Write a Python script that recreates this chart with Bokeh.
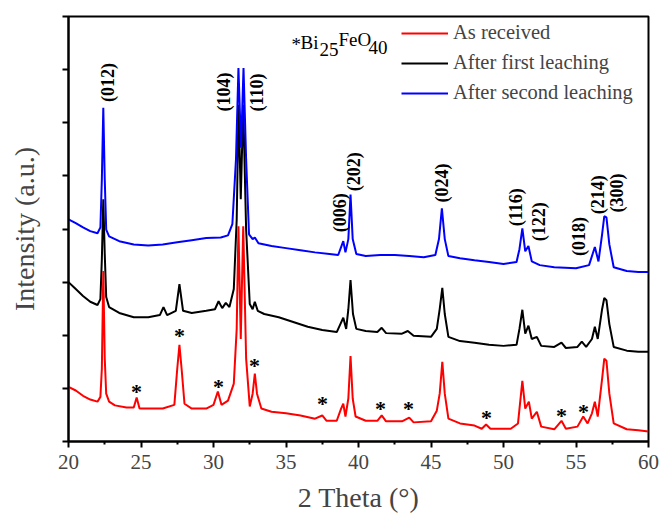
import math
from bokeh.plotting import figure
from bokeh.models import ColumnDataSource, Legend, LegendItem, FixedTicker, Range1d
from bokeh.core.properties import value
from bokeh.embed import file_html
from bokeh.resources import INLINE

# ---- data (2 Theta in degrees, intensity in a.u. with stacked offsets) ----
red_x = [20.0, 20.5, 21.0, 21.5, 22.0, 22.2, 22.3, 22.4, 22.5, 22.6, 22.8, 23.2, 24.0, 24.5, 24.7, 24.9,
         25.5, 26.5, 27.3, 27.5, 27.65, 27.8, 28.0, 28.5, 29.5, 30.0, 30.3, 30.55, 31.0, 31.4, 31.6,
         31.72, 31.88, 32.05, 32.25, 32.5, 32.7, 32.85, 33.0, 33.3, 34.0, 35.0, 36.0, 37.0, 37.5, 37.8,
         38.5, 38.8, 38.95, 39.1, 39.3, 39.45, 39.6, 39.8, 40.5, 41.3, 41.6, 41.9, 43.0, 43.5, 43.8,
         45.0, 45.4, 45.6, 45.78, 45.95, 46.2, 47.0, 48.0, 48.5, 48.8, 49.1, 50.5, 51.0, 51.3, 51.5,
         51.75, 51.95, 52.3, 52.6, 53.5, 54.0, 54.3, 55.1, 55.5, 55.8, 56.1, 56.3, 56.5, 56.8, 56.95,
         57.1, 57.3, 57.6, 58.5, 59.3, 60.0]
red_y = [1.03, 0.96, 0.86, 0.79, 0.75, 0.84, 1.37, 3.21, 1.56, 0.90, 0.75, 0.68, 0.64, 0.64, 0.83, 0.62,
         0.62, 0.62, 0.69, 1.37, 1.82, 1.37, 0.71, 0.62, 0.62, 0.69, 0.94, 0.69, 0.77, 1.09, 2.12,
         4.05, 1.93, 4.05, 1.56, 0.66, 0.90, 1.28, 0.90, 0.62, 0.56, 0.53, 0.49, 0.43, 0.49, 0.39,
         0.39, 0.62, 0.71, 0.47, 0.81, 1.61, 0.81, 0.47, 0.39, 0.39, 0.49, 0.38, 0.38, 0.45, 0.36,
         0.38, 0.58, 0.90, 1.50, 0.90, 0.43, 0.34, 0.30, 0.24, 0.32, 0.24, 0.24, 0.34, 1.14, 0.62,
         0.75, 0.43, 0.56, 0.28, 0.23, 0.39, 0.24, 0.28, 0.47, 0.34, 0.53, 0.75, 0.47, 1.18, 1.56,
         1.52, 0.90, 0.34, 0.23, 0.21, 0.19]

black_x = [20.0, 20.5, 21.0, 21.5, 22.0, 22.2, 22.3, 22.4, 22.5, 22.6, 22.8, 23.5, 24.5, 25.5, 26.3, 26.55,
           26.8, 27.4, 27.65, 27.9, 28.5, 29.5, 30.1, 30.35, 30.6, 30.85, 31.1, 31.4, 31.6, 31.73, 31.88,
           32.05, 32.25, 32.5, 32.7, 32.85, 33.05, 33.5, 34.5, 35.5, 36.5, 37.5, 38.5, 38.75, 38.95, 39.15,
           39.3, 39.45, 39.62, 39.85, 40.5, 41.3, 41.6, 41.9, 43.0, 43.4, 43.8, 45.0, 45.4, 45.6, 45.78,
           45.95, 46.2, 47.0, 48.0, 49.0, 50.0, 50.9, 51.1, 51.3, 51.5, 51.72, 51.95, 52.3, 52.6, 53.5,
           54.0, 54.3, 55.1, 55.4, 55.7, 56.1, 56.3, 56.5, 56.8, 56.95, 57.1, 57.3, 57.6, 58.5, 59.3, 60.0]
black_y = [3.00, 2.87, 2.74, 2.63, 2.57, 2.68, 3.43, 4.56, 3.53, 2.72, 2.53, 2.42, 2.34, 2.34, 2.38, 2.53,
           2.38, 2.46, 2.96, 2.46, 2.42, 2.46, 2.49, 2.64, 2.51, 2.61, 2.53, 2.87, 4.18, 6.34, 4.56,
           6.34, 3.99, 2.59, 2.49, 2.63, 2.46, 2.40, 2.34, 2.25, 2.16, 2.10, 2.06, 2.21, 2.33, 2.12,
           2.49, 3.04, 2.40, 2.12, 2.08, 2.06, 2.14, 2.04, 2.03, 2.08, 1.99, 1.97, 2.12, 2.49, 2.89,
           2.40, 1.97, 1.89, 1.86, 1.82, 1.80, 1.82, 2.12, 2.48, 2.03, 2.18, 1.93, 1.97, 1.80, 1.78,
           1.86, 1.76, 1.78, 1.88, 1.78, 1.93, 2.16, 1.93, 2.49, 2.70, 2.66, 2.21, 1.78, 1.71, 1.69, 1.69]

blue_x = [20.0, 20.5, 21.0, 21.5, 22.0, 22.2, 22.3, 22.4, 22.5, 22.6, 22.8, 23.5, 24.5, 25.5, 26.5, 27.5,
          28.5, 29.5, 30.5, 31.0, 31.3, 31.55, 31.72, 31.9, 32.07, 32.25, 32.45, 32.7, 32.85, 33.1, 34.0,
          35.0, 36.0, 37.0, 38.0, 38.6, 38.8, 38.95, 39.1, 39.3, 39.45, 39.6, 39.85, 40.5, 41.5, 42.5,
          43.5, 44.5, 45.3, 45.55, 45.75, 45.95, 46.2, 47.0, 48.0, 49.0, 50.0, 50.9, 51.1, 51.3, 51.5,
          51.72, 51.95, 52.5, 53.5, 55.0, 55.9, 56.3, 56.55, 56.8, 56.95, 57.1, 57.3, 57.6, 58.5, 59.3, 60.0]
blue_y = [4.18, 4.11, 4.03, 3.96, 3.92, 4.03, 4.93, 6.28, 4.93, 3.99, 3.86, 3.77, 3.71, 3.69, 3.71, 3.75,
          3.79, 3.83, 3.84, 3.88, 4.09, 5.31, 7.03, 5.53, 7.03, 5.31, 3.90, 3.81, 3.84, 3.73, 3.68,
          3.64, 3.60, 3.56, 3.53, 3.51, 3.66, 3.77, 3.56, 3.81, 4.65, 3.81, 3.53, 3.49, 3.51, 3.51,
          3.49, 3.47, 3.51, 3.81, 4.39, 3.81, 3.49, 3.45, 3.41, 3.38, 3.34, 3.38, 3.62, 4.01, 3.58,
          3.68, 3.39, 3.32, 3.28, 3.26, 3.32, 3.66, 3.39, 3.90, 4.24, 4.22, 3.71, 3.28, 3.21, 3.19, 3.19]

series_names = ["As received", "After first leaching", "After second leaching"]
series_colors = ["#ff0000", "#000000", "#0000ff"]

peak_labels = ["(012)", "(104)", "(110)", "(006)", "(202)", "(024)", "(116)", "(122)", "(018)", "(214)", "(300)"]
peak_label_x = [22.7, 30.7, 33.03, 38.69, 39.66, 45.79, 50.83, 52.48, 55.24, 56.55, 57.86]
peak_label_y = [6.39, 6.21, 6.21, 3.94, 4.71, 4.50, 4.05, 3.77, 3.49, 4.28, 4.31]

star_x = [24.69, 27.66, 30.34, 32.83, 37.52, 41.52, 43.45, 48.83, 54.0, 55.52]
star_y = [0.98, 2.03, 1.07, 1.46, 0.75, 0.66, 0.66, 0.49, 0.53, 0.60]

note_parts = ["*", "Bi", "25", "FeO", "40"]

x_ticks = [20, 25, 30, 35, 40, 45, 50, 55, 60]
x_minor = [22.5, 27.5, 32.5, 37.5, 42.5, 47.5, 52.5, 57.5]
y_ticks = [0, 1, 2, 3, 4, 5, 6, 7, 8]

FONT = "Liberation Serif"

p = figure(width=660, height=515, output_backend="svg", toolbar_location=None,
           x_range=Range1d(20, 60), y_range=Range1d(0, 8))
p.min_border_left = 68
p.min_border_right = 12
p.min_border_top = 16
p.min_border_bottom = 72
p.background_fill_color = "white"
p.border_fill_color = "white"
p.outline_line_color = "black"
p.outline_line_width = 2
p.grid.visible = False

# x axis
xa = p.xaxis[0]
xa.ticker = FixedTicker(ticks=x_ticks, minor_ticks=x_minor)
xa.axis_label = "2 Theta (°)"
xa.axis_label_text_font = FONT
xa.axis_label_text_font_size = "28px"
xa.axis_label_text_font_style = "normal"
xa.axis_label_standoff = 10
xa.major_label_text_font = FONT
xa.major_label_text_font_size = "21px"
xa.major_label_standoff = 7
xa.axis_line_width = 2
xa.major_tick_line_width = 2
xa.minor_tick_line_width = 2
xa.major_tick_out = 6
xa.major_tick_in = 0
xa.minor_tick_out = 3
xa.minor_tick_in = 0

# y axis: unlabeled ticks (drawn as minor ticks so no labels exist)
ya = p.yaxis[0]
ya.ticker = FixedTicker(ticks=[], minor_ticks=y_ticks)
ya.axis_label = "Intensity (a.u.)"
ya.axis_label_text_font = FONT
ya.axis_label_text_font_size = "28px"
ya.axis_label_text_font_style = "normal"
ya.axis_label_standoff = 23
ya.axis_line_width = 2
ya.major_tick_out = 6
ya.major_tick_in = 0
ya.minor_tick_line_width = 2
ya.minor_tick_out = 6
ya.minor_tick_in = 0

# traces (black under red, blue on top)
r_black = p.line(black_x, black_y, line_color=series_colors[1], line_width=2)
r_red = p.line(red_x, red_y, line_color=series_colors[0], line_width=2)
r_blue = p.line(blue_x, blue_y, line_color=series_colors[2], line_width=2)

legend = Legend(items=[LegendItem(label=series_names[0], renderers=[r_red]),
                       LegendItem(label=series_names[1], renderers=[r_black]),
                       LegendItem(label=series_names[2], renderers=[r_blue])],
                location=(333, 337))
legend.label_text_font = FONT
legend.label_text_font_size = "20.5px"
legend.label_height = 20
legend.glyph_height = 20
legend.glyph_width = 47
legend.label_standoff = 5
legend.spacing = 7
legend.padding = 0
legend.margin = 0
legend.background_fill_alpha = 0
legend.border_line_alpha = 0
p.add_layout(legend)

# hkl labels
lab_src = ColumnDataSource(dict(x=peak_label_x, y=peak_label_y, text=peak_labels))
p.text(x="x", y="y", text="text", source=lab_src, angle=math.pi / 2,
       text_font=value(FONT), text_font_size="18px", text_font_style="bold",
       text_align="left", text_baseline="middle", text_color="black")

# impurity markers
star_src = ColumnDataSource(dict(x=star_x, y=star_y, text=["*"] * len(star_x)))
p.text(x="x", y="y", text="text", source=star_src, text_font=value(FONT),
       text_font_size="22px", text_font_style="bold", text_align="center",
       text_baseline="middle", y_offset=2, text_color="black")

# "* Bi25FeO40" note (subscripts placed with pixel offsets)
note_src = ColumnDataSource(dict(x=[35.38] * 5, y=[7.52] * 5, text=note_parts,
                                 dx=[0, 9, 28, 47, 77], dy=[2, 0, 7, -3, 5]))
p.text(x="x", y="y", text="text", source=note_src, x_offset="dx", y_offset="dy",
       text_font=value(FONT), text_font_size="19px", text_align="left",
       text_baseline="alphabetic", text_color="black")

open("out.html", "w").write(file_html(p, INLINE))
